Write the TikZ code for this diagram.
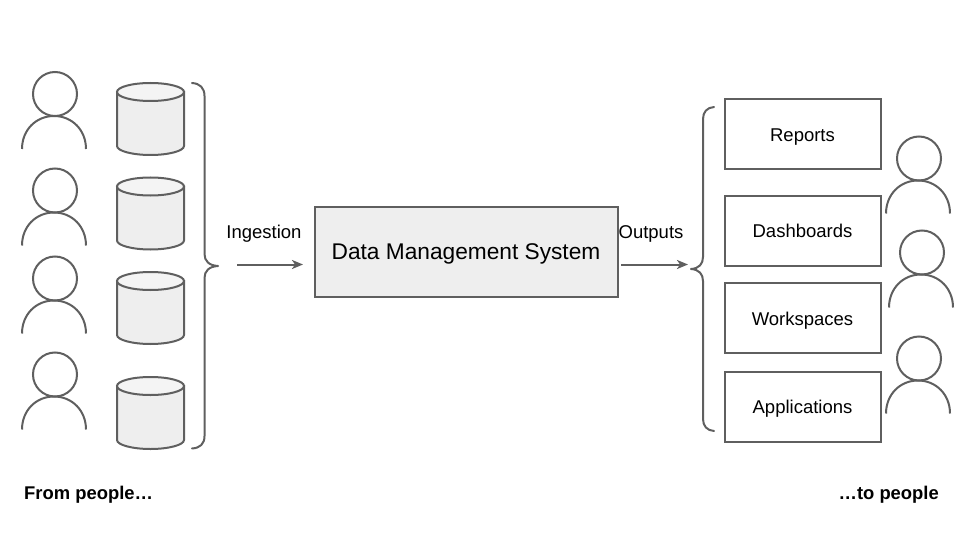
\documentclass[tikz,border=0pt]{standalone}
\usepackage{fontspec}
\setmainfont{Liberation Sans}
\usetikzlibrary{arrows.meta}
\definecolor{linegrey}{HTML}{5F5F5F}
\definecolor{fillgrey}{HTML}{EEEEEE}
\definecolor{topgrey}{HTML}{F4F4F4}
\tikzset{
  x=1pt,y=-1pt,
  outline/.style={draw=linegrey,line width=2pt},
  flow/.style={draw=linegrey,line width=2pt,-{Stealth[length=11pt,width=9pt,inset=3pt]}},
  brace/.style={draw=linegrey,line width=2pt,line cap=round,line join=round},
  outbox/.style={outline,rectangle,minimum width=156pt,minimum height=70pt,inner sep=0pt,text height=18pt,text depth=3.5pt,font=\fontsize{18.5}{21}\selectfont},
  label/.style={inner sep=0pt,anchor=base,font=\fontsize{18.5}{21}\selectfont},
  caption/.style={inner sep=0pt,font=\fontsize{18.4}{21}\selectfont\bfseries},
  person/.pic={
    \draw[outline] (0,0) circle[radius=22pt];
    \draw[outline] (-33,55) .. controls (-33,36) and (-19,22) .. (-1,22) .. controls (17,22) and (31,36) .. (31,55);
  },
  database/.pic={
    \path[outline,fill=fillgrey] (-33.5,9) -- (-33.5,63) .. controls (-33.5,68) and (-18,72) .. (0,72) .. controls (18,72) and (33.5,68) .. (33.5,63) -- (33.5,9) -- cycle;
    \path[outline,fill=topgrey] (0,9) ellipse[x radius=33.5pt,y radius=9pt];
  }
}
\begin{document}
\begin{tikzpicture}
\useasboundingbox (0,0) rectangle (960,540);
% people, left
\pic at (55,94) {person};
\pic at (55,190.5) {person};
\pic at (55,278.5) {person};
\pic at (55,374.5) {person};
% databases
\pic at (150.5,83) {database};
\pic at (150.5,177.5) {database};
\pic at (150.5,272) {database};
\pic at (150.5,377) {database};
% left brace
\draw[brace] (192,83) .. controls (200,83.5) and (204.5,88) .. (204.5,96) -- (204.5,254) .. controls (204.5,261) and (209,265.5) .. (218,266)
  .. controls (209,266.5) and (204.5,271) .. (204.5,278) -- (204.5,436) .. controls (204.5,444) and (200,448) .. (192,448.5);
% main box and outputs
\node[outline,fill=fillgrey,rectangle,minimum width=303pt,minimum height=90pt,inner sep=0pt,text height=20pt,text depth=4pt,font=\fontsize{22.7}{26}\selectfont] (main) at (466,251.5) {Data Management System};
\node[label] (ingestion) at (264,238.5) {Ingestion};
\node[label] (outputs) at (651,238.5) {Outputs};
\coordinate (inStart) at (237,264.5);
\coordinate (inEnd) at (303,264.5);
\coordinate (outStart) at (621,264.5);
\coordinate (outEnd) at (688,264.5);
\draw[flow] (inStart) -- (inEnd);
\draw[flow] (outStart) -- (outEnd);
% right brace
\draw[brace] (714,107) .. controls (707,107.5) and (703,112) .. (703,119) -- (703,257) .. controls (703,264) and (699,268.5) .. (691,269)
  .. controls (699,269.5) and (703,274) .. (703,281) -- (703,419) .. controls (703,426) and (707,430.5) .. (714,431);
% output boxes
\node[outbox] (reports) at (802.5,134) {Reports};
\node[outbox] (dashboards) at (802.5,230.5) {Dashboards};
\node[outbox] (workspaces) at (802.5,318) {Workspaces};
\node[outbox] (applications) at (802.5,406.5) {Applications};
% people, right
\pic at (919,158.5) {person};
\pic at (922,252.5) {person};
\pic at (919,358.5) {person};
% captions
\node[caption,anchor=base west] (from) at (24,499.5) {From people…};
\node[caption,anchor=base east] (to) at (939,499.5) {…to people};
\end{tikzpicture}
\end{document}
